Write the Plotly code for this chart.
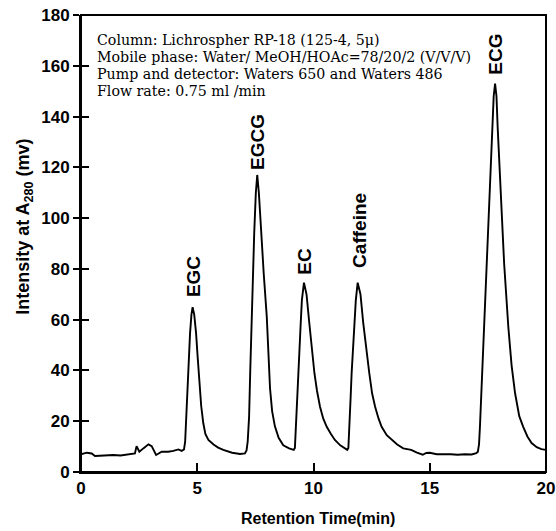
import plotly.graph_objects as go

# Chromatogram trace (retention time in min, intensity in mV)
time_min = [0.0, 0.25, 0.46, 0.6, 0.8, 1.1, 1.39, 1.7, 2.1, 2.32, 2.39, 2.51, 2.68, 2.9, 3.04, 3.15, 3.23,
            3.47, 3.75, 3.97, 4.19, 4.33, 4.43, 4.48, 4.52, 4.57, 4.63, 4.69, 4.75, 4.8, 4.87, 4.95, 5.02,
            5.09, 5.17, 5.26, 5.35, 5.48, 5.7, 5.9, 6.12, 6.5, 6.84, 7.05, 7.12, 7.17, 7.23, 7.28, 7.34,
            7.45, 7.52, 7.58, 7.65, 7.74, 7.86, 7.99, 8.07, 8.13, 8.22, 8.34, 8.5, 8.7, 8.95, 9.15, 9.2,
            9.25, 9.3, 9.35, 9.45, 9.5, 9.59, 9.7, 9.82, 9.93, 10.04, 10.15, 10.28, 10.42, 10.57, 10.75,
            10.92, 11.15, 11.35, 11.45, 11.5, 11.55, 11.6, 11.64, 11.76, 11.82, 11.9, 12.02, 12.14, 12.27,
            12.4, 12.52, 12.65, 12.8, 12.93, 13.15, 13.36, 13.6, 13.86, 14.2, 14.45, 14.7, 14.85, 15.0,
            15.3, 15.6, 15.9, 16.2, 16.5, 16.8, 17.0, 17.07, 17.12, 17.16, 17.25, 17.33, 17.45, 17.56,
            17.69, 17.75, 17.81, 17.87, 17.92, 18.05, 18.2, 18.38, 18.52, 18.67, 18.85, 19.02, 19.2,
            19.38, 19.6, 19.8, 20.0]
intensity_mv = [7.0, 7.6, 7.3, 6.3, 6.4, 6.6, 6.7, 6.5, 7.0, 7.3, 10.2, 8.0, 9.3, 10.9, 10.2, 8.5, 6.7,
                8.0, 8.0, 8.3, 8.9, 8.3, 8.9, 12, 20, 34.9, 45, 54.6, 62, 64.9, 62, 54.6, 45,
                34.9, 26, 19.2, 15, 12.6, 10.8, 9.6, 8.7, 7.6, 7.1, 7.3, 8.5, 12, 21.8, 40, 61.2,
                94, 110, 117, 110, 94, 78, 61.2, 45, 33, 24, 18, 13.5, 10.5, 9.3, 8.7, 9.5,
                18, 28, 38.9, 58.6, 67.7, 74.6, 70, 58.6, 48, 38.9, 32, 25.7, 21, 17.8, 15,
                12.6, 10.5, 9.3, 8.7, 9.5, 18, 30, 38.9, 58.6, 67.7, 74.6, 70, 58.6, 48,
                38.9, 31, 25.7, 21, 17.8, 14.5, 12.6, 10.8, 9.3, 8.7, 7.6, 6.8, 7.5, 7.6,
                7.0, 7.1, 7.0, 6.8, 7.0, 6.9, 7.4, 8, 11, 18, 38, 57, 84, 110,
                136, 148, 153, 148, 136, 110, 82, 57, 42, 31, 22, 17.8, 14,
                11.4, 9.8, 9.0, 8.7]

# Peak labels
peak_names = ["EGC", "EGCG", "EC", "Caffeine", "ECG"]
peak_times = [4.82, 7.58, 9.6, 11.95, 17.83]

# Conditions text
conditions = [
    "Column: Lichrospher RP-18 (125-4, 5\u03bc)",
    "Mobile phase: Water/ MeOH/HOAc=78/20/2 (V/V/V)",
    "Pump and detector: Waters 650 and Waters 486",
    "Flow rate: 0.75 ml /min",
]

x_ticks = [0, 5, 10, 15, 20]
y_ticks = [0, 20, 40, 60, 80, 100, 120, 140, 160, 180]

fig = go.Figure()
fig.add_trace(go.Scatter(x=time_min, y=intensity_mv, mode="lines",
                         line=dict(color="black", width=1.9), showlegend=False, hoverinfo="skip"))
# dummy trace for overlay y axis (inside tick marks)
fig.add_trace(go.Scatter(x=[None], y=[None], yaxis="y2", showlegend=False, hoverinfo="skip"))

label_y = [76.8, 130.1, 82.9, 95.3, 164.6]
annotations = []
for name, t, ly in zip(peak_names, peak_times, label_y):
    annotations.append(dict(x=t, y=ly, xref="x", yref="y", text=name, showarrow=False,
                            textangle=-90, xanchor="center", yanchor="middle",
                            font=dict(family="Liberation Sans", size=19, color="black", weight="bold")))

cond_y = [170.3, 163.6, 156.9, 150.2]
for line, cy in zip(conditions, cond_y):
    annotations.append(dict(x=0.6, y=cy, xref="x", yref="y", text=line, showarrow=False,
                            xanchor="left", yanchor="middle",
                            font=dict(family="DejaVu Serif", size=14.2, color="black")))

# axis titles
annotations.append(dict(x=0.51, y=-0.101, xref="paper", yref="paper", text="Retention Time(min)",
                        showarrow=False, xanchor="center", yanchor="middle",
                        font=dict(family="Liberation Sans", size=16, color="black", weight="bold")))
annotations.append(dict(x=-0.123, y=0.536, xref="paper", yref="paper",
                        text="Intensity at A<sub>280</sub> (mv)", textangle=-90,
                        showarrow=False, xanchor="center", yanchor="middle",
                        font=dict(family="Liberation Sans", size=18, color="black", weight="bold")))

tickfont = dict(family="Liberation Sans", size=17, color="black", weight="bold")
fig.update_layout(
    width=556, height=531,
    margin=dict(l=81, r=10, t=15, b=59),
    paper_bgcolor="white", plot_bgcolor="white",
    annotations=annotations,
    shapes=[dict(type="rect", xref="paper", yref="paper", x0=0, y0=0, x1=1, y1=1,
                 line=dict(color="black", width=2), layer="above")],
    xaxis=dict(range=[0, 20], tickvals=x_ticks, ticks="inside", ticklen=9, tickwidth=1.5,
               tickcolor="black", showline=True, linecolor="black", linewidth=2, mirror=False,
               showgrid=False, zeroline=False, tickfont=tickfont, automargin=False,
               ticklabeloverflow="allow"),
    yaxis=dict(range=[0, 180], tickvals=y_ticks, ticks="outside", ticklen=6, tickwidth=1.5,
               tickcolor="black", showline=True, linecolor="black", linewidth=2, mirror=False,
               showgrid=False, zeroline=False, tickfont=tickfont, automargin=False,
               ticklabeloverflow="allow"),
    yaxis2=dict(range=[0, 180], overlaying="y", side="left", tickvals=y_ticks, ticks="inside",
                ticklen=8, tickwidth=1.5, tickcolor="black", showticklabels=False,
                showgrid=False, zeroline=False, showline=False, automargin=False),
)

fig.write_html("out.html", config={"displayModeBar": False},
               post_script="document.body.style.margin='0';document.body.style.overflow='hidden';")
